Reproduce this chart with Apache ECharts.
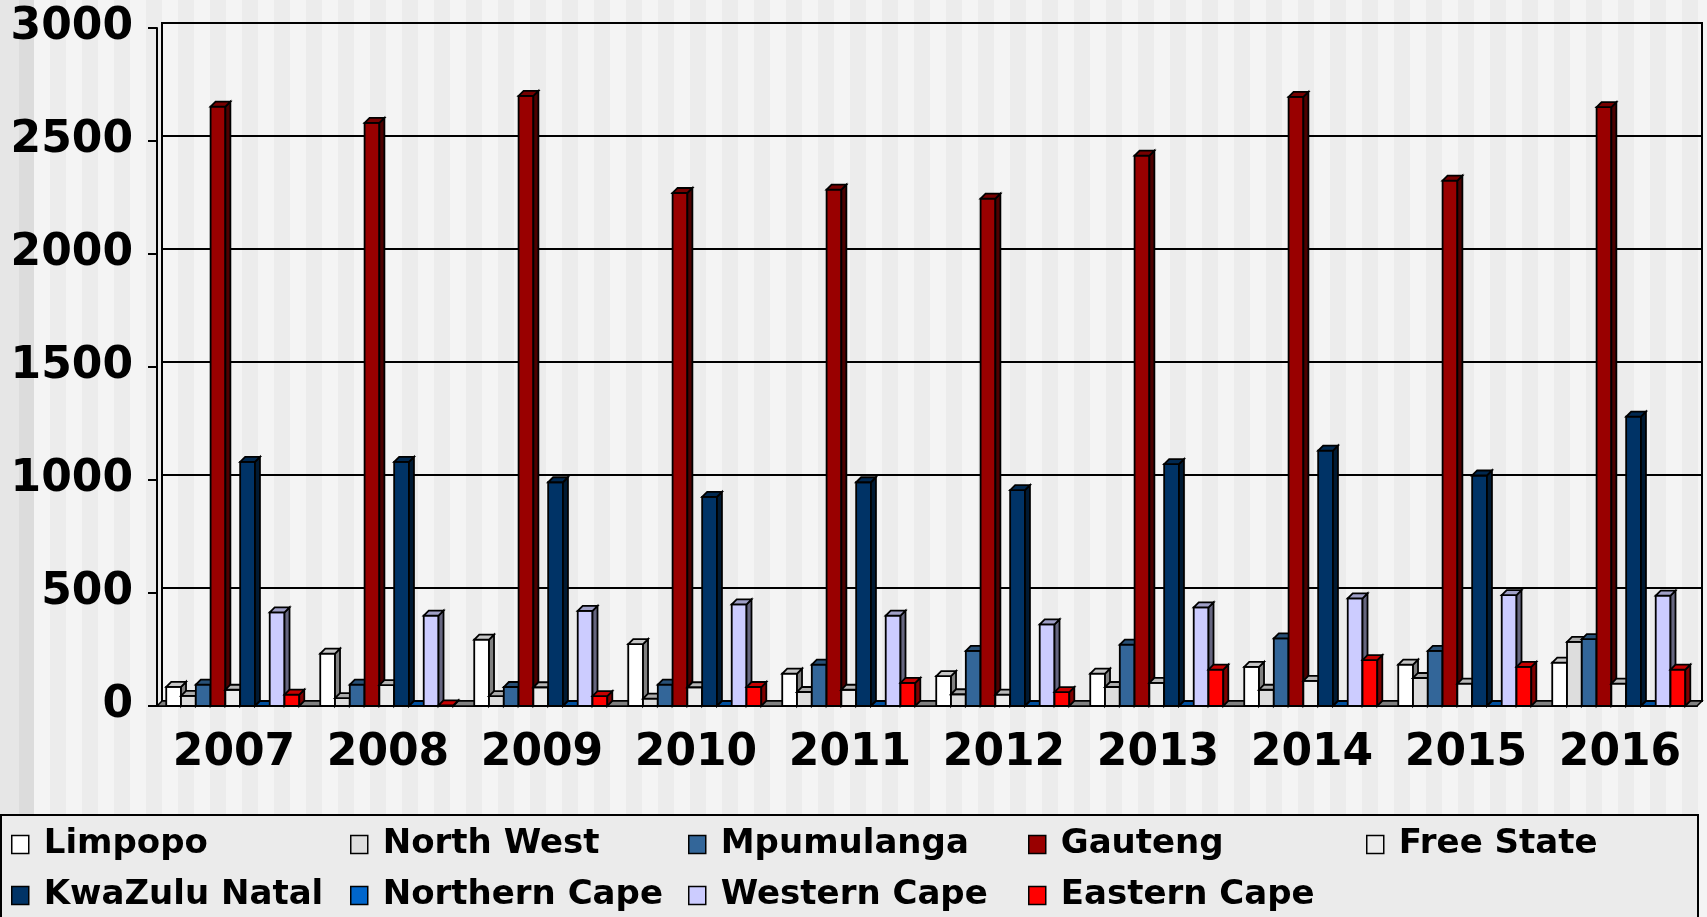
<!doctype html>
<html>
<head>
<meta charset="UTF-8">
<title></title>
<script src="https://cdn.jsdelivr.net/npm/echarts@6/dist/echarts.min.js"></script>
<style>
	html, body { margin: 0; padding: 0; }
	#main {
		width: 1707px;
		height: 917px;
		background:
			linear-gradient(90deg, #e6e6e6 0 19px, #dcdcdc 19px 34px, transparent 34px),
			repeating-linear-gradient(90deg, #f4f4f4 0 16px, #ececec 16px 32px);
		background-position: 0 0, 2px 0;
	}
</style>
</head>
<body>
<div id="main"></div>
<script>
	var years = ['2007', '2008', '2009', '2010', '2011', '2012', '2013', '2014', '2015', '2016'];
	var yTicks = [0, 500, 1000, 1500, 2000, 2500, 3000];

	var limpopo      = [85, 232, 294, 274, 143, 132, 143, 173, 183, 192];
	var northWest    = [45, 35, 44, 33, 62, 52, 84, 72, 124, 284];
	var mpumulanga   = [95, 95, 84, 95, 183, 244, 272, 299, 244, 296];
	var gauteng      = [2652, 2580, 2700, 2270, 2285, 2245, 2435, 2695, 2325, 2650];
	var freeState    = [72, 92, 83, 83, 72, 50, 102, 111, 99, 99];
	var kwazuluNatal = [1080, 1080, 990, 925, 990, 955, 1070, 1130, 1020, 1280];
	var northernCape = [0, 0, 0, 0, 0, 0, 0, 0, 0, 0];
	var westernCape  = [414, 400, 421, 450, 400, 361, 436, 476, 491, 488];
	var easternCape  = [50, 3, 44, 84, 102, 61, 161, 203, 173, 161];

	var names  = ['Limpopo', 'North West', 'Mpumulanga', 'Gauteng', 'Free State',
	              'KwaZulu Natal', 'Northern Cape', 'Western Cape', 'Eastern Cape'];
	var values = [limpopo, northWest, mpumulanga, gauteng, freeState,
	              kwazuluNatal, northernCape, westernCape, easternCape];
	var colors = ['#ffffff', '#dddddd', '#336699', '#990000', '#ececec',
	              '#003366', '#0066cc', '#ccccff', '#ff0000'];

	var DX = 5, DY = 5;
	var FONT = '"DejaVu Sans", Verdana, sans-serif';

	function shade(hex, k) {
		var n = parseInt(hex.slice(1), 16);
		var r = Math.round(((n >> 16) & 255) * k);
		var g = Math.round(((n >> 8) & 255) * k);
		var b = Math.round((n & 255) * k);
		return 'rgb(' + r + ',' + g + ',' + b + ')';
	}

	function makeRender(idx, color) {
		var sideC = shade(color, 0.5), topC = shade(color, 0.78);
		return function (params, api) {
			var band = api.size([1, 0])[0];
			var slot = band * 0.096;
			var c = api.coord([api.value(0), 0]);
			var t = api.coord([api.value(0), api.value(1)]);
			var x = c[0] - band / 2 + band * 0.06 + idx * slot;
			var y0 = c[1], y1 = t[1], w = slot;
			var kids = [];
			if (y0 - y1 > 0.5) {
				kids.push({ type: 'polygon', shape: { points: [[x, y1], [x + w, y1], [x + w, y0], [x, y0]] },
					style: { fill: color, stroke: '#000', lineWidth: 1.8 } });
				kids.push({ type: 'polygon', shape: { points: [[x + w, y1], [x + w + DX, y1 - DY], [x + w + DX, y0 - DY], [x + w, y0]] },
					style: { fill: sideC, stroke: '#000', lineWidth: 1.8 } });
			}
			kids.push({ type: 'polygon', shape: { points: [[x, y1], [x + DX, y1 - DY], [x + w + DX, y1 - DY], [x + w, y1]] },
				style: { fill: topC, stroke: '#000', lineWidth: 1.8 } });
			return { type: 'group', children: kids };
		};
	}

	var series = [{
		type: 'custom',
		name: 'floor',
		silent: true,
		xAxisIndex: 0, yAxisIndex: 0,
		data: [[0, 0]],
		renderItem: function (params, api) {
			var cs = params.coordSys;
			var yb = cs.y + cs.height;
			return { type: 'polygon',
				shape: { points: [[cs.x, yb], [cs.x + cs.width, yb], [cs.x + cs.width + DX, yb - DY], [cs.x + DX, yb - DY]] },
				style: { fill: '#808080', stroke: '#000', lineWidth: 1.5 } };
		}
	}];
	for (var i = 0; i < names.length; i++) {
		series.push({
			type: 'custom',
			name: names[i],
			xAxisIndex: 0, yAxisIndex: 0,
			itemStyle: { color: colors[i] },
			encode: { x: 0, y: 1 },
			data: values[i].map(function (v, j) { return [j, v]; }),
			renderItem: makeRender(i, colors[i])
		});
	}

	// legend laid out in 5 columns x 2 rows
	var cols = [['Limpopo', 'KwaZulu Natal'], ['North West', 'Northern Cape'], ['Mpumulanga', 'Western Cape'],
	            ['Gauteng', 'Eastern Cape'], ['Free State']];
	var colLeft = [11, 350, 688, 1028, 1366];
	var legends = cols.map(function (c, k) {
		return {
			data: c,
			orient: 'vertical',
			left: colLeft[k],
			top: 825,
			padding: 0,
			itemGap: 12,
			itemWidth: 17,
			itemHeight: 18,
			icon: 'rect',
			itemStyle: { borderColor: '#000', borderWidth: 1.5 },
			textStyle: { fontFamily: FONT, fontWeight: 'bold', fontSize: 34, color: '#000', lineHeight: 39, padding: [0, 0, 0, 10] }
		};
	});

	var chart = echarts.init(document.getElementById('main'));
	chart.setOption({
		animation: false,
		grid: [
			{ left: 157, right: 10, top: 28, bottom: 211 },
			{ left: 157 + DX, right: 10 - DX, top: 28 - DY, bottom: 211 + DY, show: true,
			  borderColor: '#000', borderWidth: 2, backgroundColor: 'transparent' }
		],
		graphic: [{
			type: 'rect', left: 0, top: 814, z: -1,
			shape: { width: 1697, height: 110 },
			style: { fill: '#ebebeb', stroke: '#000', lineWidth: 2 }
		}],
		legend: legends,
		xAxis: [
			{ type: 'category', gridIndex: 0, data: years,
			  axisLine: { lineStyle: { color: '#000', width: 2 } },
			  axisTick: { interval: 0, length: 9, lineStyle: { color: '#000', width: 2 } },
			  axisLabel: { interval: 0, hideOverlap: false, fontFamily: FONT, fontWeight: 'bold', fontSize: 44, color: '#000', margin: 26 } },
			{ type: 'category', gridIndex: 1, data: years, show: false }
		],
		yAxis: [
			{ type: 'value', gridIndex: 0, min: yTicks[0], max: yTicks[yTicks.length - 1], interval: 500,
			  axisLine: { show: true, lineStyle: { color: '#000', width: 2 } },
			  axisTick: { show: true, length: 9, lineStyle: { color: '#000', width: 2 } },
			  splitLine: { show: false },
			  axisLabel: { fontFamily: FONT, fontWeight: 'bold', fontSize: 44, color: '#000', margin: 24,
			               formatter: function (v) { return String(v); } } },
			{ type: 'value', gridIndex: 1, min: yTicks[0], max: yTicks[yTicks.length - 1], interval: 500,
			  axisLine: { show: false }, axisTick: { show: false }, axisLabel: { show: false },
			  splitLine: { show: true, lineStyle: { color: '#000', width: 2 } } }
		],
		series: series
	});
</script>
</body>
</html>
